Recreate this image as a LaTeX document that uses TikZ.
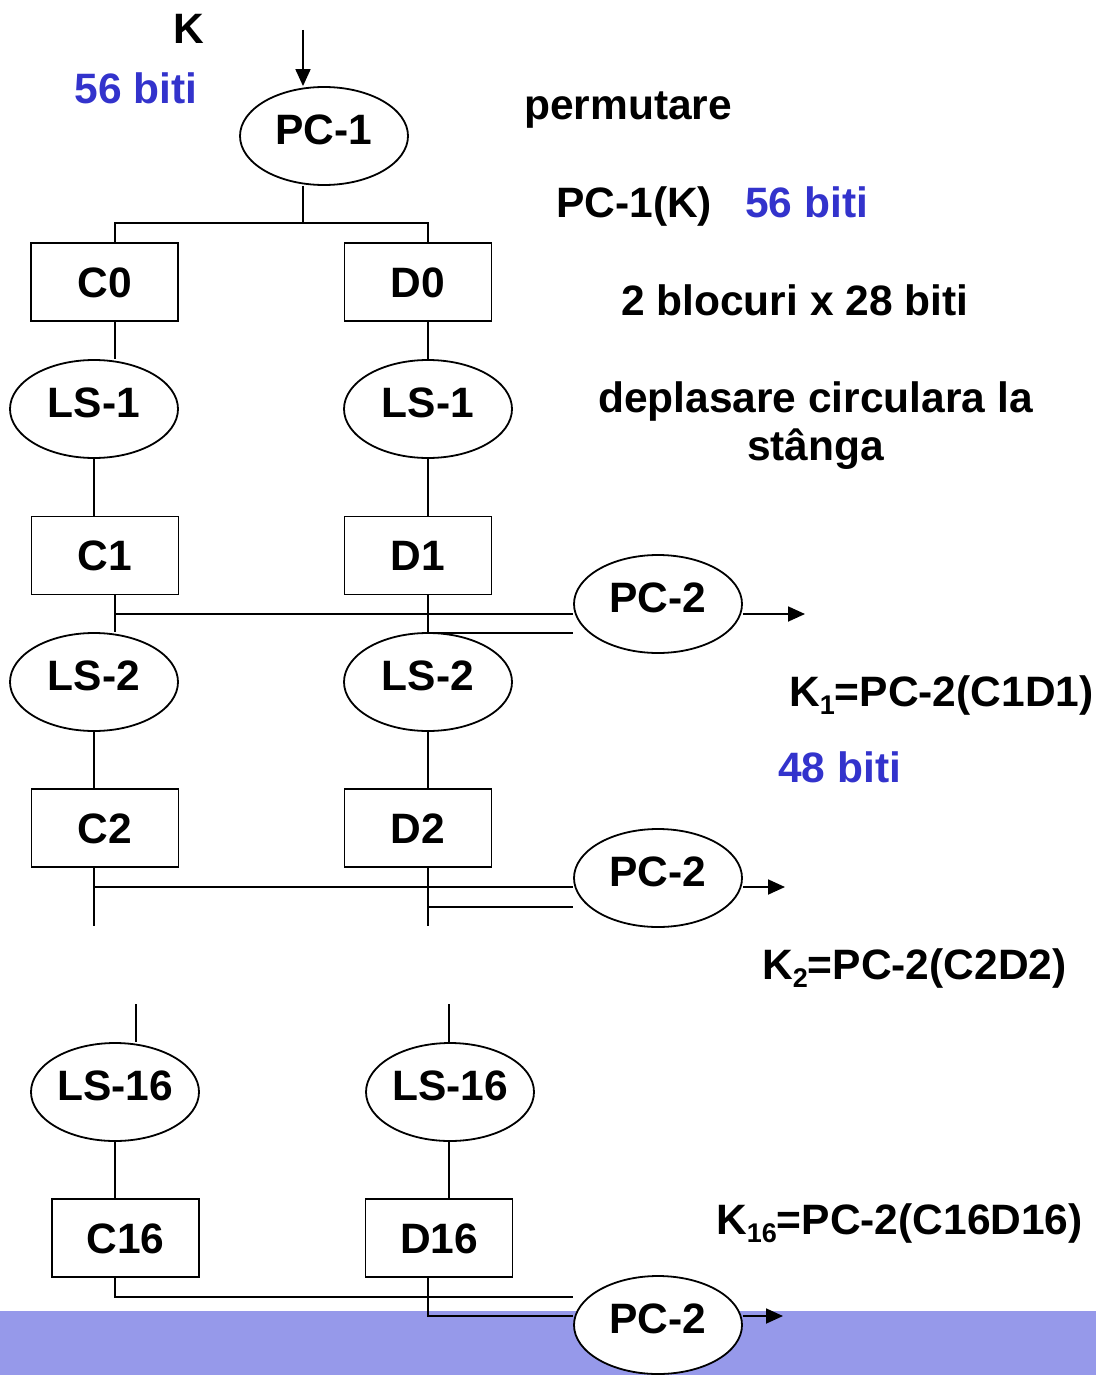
\documentclass[tikz,border=0pt]{standalone}
\usepackage{fontspec}
\setmainfont{Liberation Sans}
\usetikzlibrary{shapes.geometric,arrows.meta}
\definecolor{bitblue}{RGB}{51,51,204}
\definecolor{band}{RGB}{150,153,234}
\newcommand{\ksub}[1]{\raisebox{-8pt}{\fontsize{27}{27}\selectfont #1}}
\begin{document}
\begin{tikzpicture}[x=1pt,y=-1pt,
  every node/.style={font=\fontsize{42.5}{48}\selectfont\bfseries},
  wire/.style={line width=1.8pt},
  reg/.style={draw,line width=1.8pt,rectangle,minimum width=147pt,minimum height=78pt,
    inner sep=0pt,text height=30pt,text depth=0pt},
  perm/.style={draw,line width=1.8pt,ellipse,minimum width=168pt,minimum height=98pt,
    inner sep=0pt,text height=30pt,text depth=13pt,fill=white},
  arr/.style={wire,-{Triangle[length=17pt,width=15pt]}},
  lbl/.style={inner sep=0pt,anchor=base west},
  ctr/.style={inner sep=0pt,anchor=base},
]
\useasboundingbox (0,0) rectangle (1096,1375);
\fill[band] (0,1311) rectangle (1096,1375);

% key schedule blocks
\node[perm] (pc1)  at (324,136)   {PC-1};
\node[reg]  (c0)   at (104.5,282) {C0};
\node[reg]  (d0)   at (418,282)   {D0};
\node[perm] (ls1l) at (94,409)    {LS-1};
\node[perm] (ls1r) at (428,409)   {LS-1};
\node[reg]  (c1)   at (105,555.5) {C1};
\node[reg]  (d1)   at (418,555.5) {D1};
\node[perm] (ls2l) at (94,682)    {LS-2};
\node[perm] (ls2r) at (428,682)   {LS-2};
\node[reg]  (c2)   at (105,828)   {C2};
\node[reg]  (d2)   at (418,828)   {D2};
\node[perm] (pc2a) at (658,604)   {PC-2};
\node[perm] (pc2b) at (658,878)   {PC-2};
\node[perm] (ls16l) at (115,1092) {LS-16};
\node[perm] (ls16r) at (450,1092) {LS-16};
\node[reg]  (c16)  at (125.5,1238) {C16};
\node[reg]  (d16)  at (439,1238)  {D16};
\node[perm] (pc2c) at (658,1325)  {PC-2};

% helper coordinates
\coordinate (kin)   at (303,30);
\coordinate (split) at (303,223);
\coordinate (xa) at (115,0);
\coordinate (xb) at (94,0);
\coordinate (xr) at (428,0);
\coordinate (t1) at (0,614);
\coordinate (t2) at (0,633);
\coordinate (t3) at (0,887);
\coordinate (t4) at (0,907);
\coordinate (t5) at (0,1297);
\coordinate (t6) at (0,1316);
\coordinate (gapl) at (94,926);
\coordinate (gapr) at (428,926);
\coordinate (resl) at (136,1004);
\coordinate (resr) at (449,1004);
\coordinate (k1out)  at (805,614);
\coordinate (k2out)  at (785,887);
\coordinate (k16out) at (783,1316);

% key input and split
\draw[arr]  (kin) -- (kin |- pc1.north);
\draw[wire] (pc1.south -| kin) -- (split);
\draw[wire] (c0.north -| xa) -- (xa |- split) -- (xr |- split) -- (d0.north -| xr);

% round 1
\draw[wire] (c0.south -| xa) -- (ls1l.north -| xa);
\draw[wire] (d0.south -| xr) -- (ls1r.north);
\draw[wire] (ls1l.south) -- (c1.north -| ls1l.south);
\draw[wire] (ls1r.south) -- (d1.north -| xr);
\draw[wire] (xa |- t1) -- (pc2a.west |- t1);
\draw[wire] (xr |- t2) -- (pc2a.west |- t2);
\draw[arr]  (pc2a.east |- t1) -- (k1out);

% round 2
\draw[wire] (c1.south -| xa) -- (ls2l.north -| xa);
\draw[wire] (d1.south -| xr) -- (ls2r.north);
\draw[wire] (ls2l.south) -- (c2.north -| ls2l.south);
\draw[wire] (ls2r.south) -- (d2.north -| xr);
\draw[wire] (c2.south -| xb) -- (gapl);
\draw[wire] (d2.south -| xr) -- (gapr);
\draw[wire] (xb |- t3) -- (pc2b.west |- t3);
\draw[wire] (xr |- t4) -- (pc2b.west |- t4);
\draw[arr]  (pc2b.east |- t3) -- (k2out);

% round 16
\draw[wire] (resl) -- (ls16l.north -| resl);
\draw[wire] (resr) -- (ls16r.north -| resr);
\draw[wire] (ls16l.south) -- (c16.north -| ls16l.south);
\draw[wire] (ls16r.south -| resr) -- (d16.north -| resr);
\draw[wire] (c16.south -| xa) |- (pc2c.west |- t5);
\draw[wire] (d16.south -| xr) |- (pc2c.west |- t6);
\draw[arr]  (pc2c.east |- t6) -- (k16out);

% labels
\node[ctr] (klbl) at (189,44) {K};
\node[ctr,text=bitblue] (kbits) at (136,104) {56 biti};
\node[lbl] (perm1) at (524,120) {permutare};
\node[lbl] (pck) at (556,217) {PC-1(K)};
\node[lbl,text=bitblue] (pcbits) at (745,217) {56 biti};
\node[lbl] (halves) at (621,315) {2 blocuri x 28 biti};
\node[ctr] (shift1) at (815.5,412) {deplasare circulara la};
\node[ctr] (shift2) at (815.5,460) {stânga};
\node[lbl] (k1) at (789,706) {K\ksub{1}=PC-2(C1D1)};
\node[lbl,text=bitblue] (kbits2) at (778,782) {48 biti};
\node[lbl] (k2) at (762,979) {K\ksub{2}=PC-2(C2D2)};
\node[lbl] (k16) at (716,1234) {K\ksub{16}=PC-2(C16D16)};
\end{tikzpicture}
\end{document}
